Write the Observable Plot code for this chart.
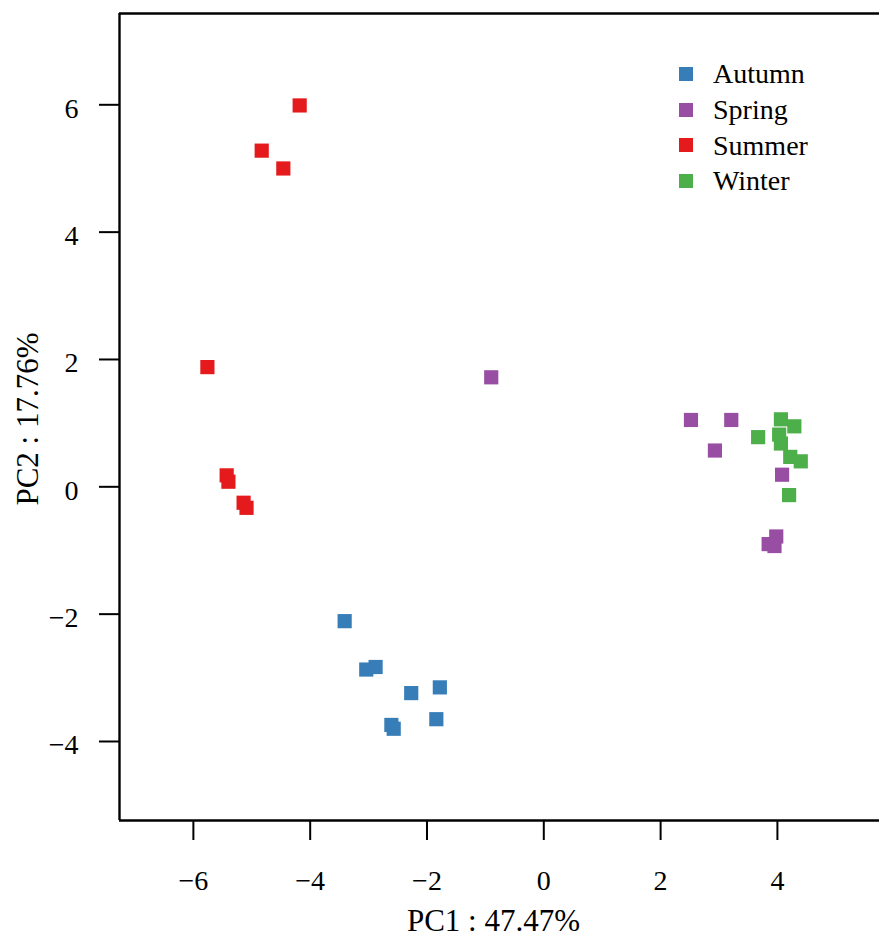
<!DOCTYPE html>
<html>
<head>
<meta charset="utf-8">
<script src="https://cdn.jsdelivr.net/npm/d3@7"></script>
<script src="https://cdn.jsdelivr.net/npm/@observablehq/plot@0.6"></script>
<style>
  html, body { margin: 0; padding: 0; background: #fff; }
  #wrap { position: relative; width: 879px; height: 938px; font-family: "Liberation Serif", serif; }
  #legend { position: absolute; left: 679px; top: 56px; font-size: 28px; line-height: 35.8px; color: #000; }
  #legend .row { display: flex; align-items: center; height: 35.8px; }
  #legend .sw { width: 14px; height: 14px; margin-right: 20px; }
</style>
</head>
<body>
<div id="wrap"><div id="legend"></div></div>
<script>
const seasons = ["Autumn", "Spring", "Summer", "Winter"];
const seasonColors = ["#377EB8", "#984EA3", "#E41A1C", "#4DAF4A"];

const autumnPC1 = [-3.41, -3.04, -2.88, -2.27, -1.78, -1.84, -2.61, -2.57];
const autumnPC2 = [-2.11, -2.87, -2.83, -3.24, -3.15, -3.65, -3.74, -3.80];
const springPC1 = [-0.90, 2.52, 3.21, 2.93, 4.08, 3.98, 3.85, 3.95];
const springPC2 = [1.72, 1.05, 1.05, 0.57, 0.19, -0.78, -0.90, -0.93];
const summerPC1 = [-4.18, -4.83, -4.46, -5.76, -5.43, -5.40, -5.14, -5.09];
const summerPC2 = [5.99, 5.28, 5.00, 1.88, 0.18, 0.08, -0.25, -0.33];
const winterPC1 = [4.06, 4.29, 3.67, 4.03, 4.06, 4.22, 4.40, 4.20];
const winterPC2 = [1.06, 0.95, 0.78, 0.82, 0.68, 0.47, 0.40, -0.13];

const xTicks = [-6, -4, -2, 0, 2, 4];
const yTicks = [-4, -2, 0, 2, 4, 6];
const xLabel = "PC1 : 47.47%";
const yLabel = "PC2 : 17.76%";

const xMin = -7.265, xMax = 5.748;
const yMin = -5.241, yMax = 7.434;

const series = [
  [autumnPC1, autumnPC2], [springPC1, springPC2], [summerPC1, summerPC2], [winterPC1, winterPC2]
];
const points = [];
series.forEach(([xs, ys], i) => xs.forEach((v, j) => points.push({season: seasons[i], pc1: v, pc2: ys[j]})));

const chart = Plot.plot({
  width: 879,
  height: 938,
  marginLeft: 119,
  marginRight: 0,
  marginTop: 13,
  marginBottom: 118,
  style: {fontFamily: "Liberation Serif", fontSize: "28px", color: "#000", background: "#fff", overflow: "visible"},
  x: {domain: [xMin, xMax]},
  y: {domain: [yMin, yMax]},
  color: {domain: seasons, range: seasonColors},
  marks: [
    Plot.axisX({ticks: xTicks, tickSize: 20, tickPadding: 30, strokeWidth: 2, label: null, fontSize: 28}),
    Plot.axisY({ticks: yTicks, tickSize: 20, strokeWidth: 2, label: null, tickFormat: () => ""}),
    Plot.axisY({ticks: yTicks, tickSize: 0, tickPadding: 41, label: null, fontSize: 28, dy: 4}),
    Plot.ruleX([xMin], {stroke: "#000", strokeWidth: 2.4}),
    Plot.ruleY([yMin, yMax], {stroke: "#000", strokeWidth: 2.4}),
    Plot.dot(points, {x: "pc1", y: "pc2", fill: "season", symbol: "square", r: 8}),
    Plot.text([xLabel], {frameAnchor: "bottom", dx: -6, dy: 101, fontSize: 31, lineAnchor: "middle", textAnchor: "middle"}),
    Plot.text([yLabel], {frameAnchor: "left", dx: -91, dy: 2, rotate: -90, fontSize: 31, lineAnchor: "middle", textAnchor: "middle"})
  ]
});
document.getElementById("wrap").prepend(chart);

const legend = document.getElementById("legend");
seasons.forEach((s, i) => {
  const row = document.createElement("div");
  row.className = "row";
  const sw = document.createElement("span");
  sw.className = "sw";
  sw.style.background = seasonColors[i];
  const t = document.createElement("span");
  t.textContent = s;
  row.append(sw, t);
  legend.append(row);
});
</script>
</body>
</html>
